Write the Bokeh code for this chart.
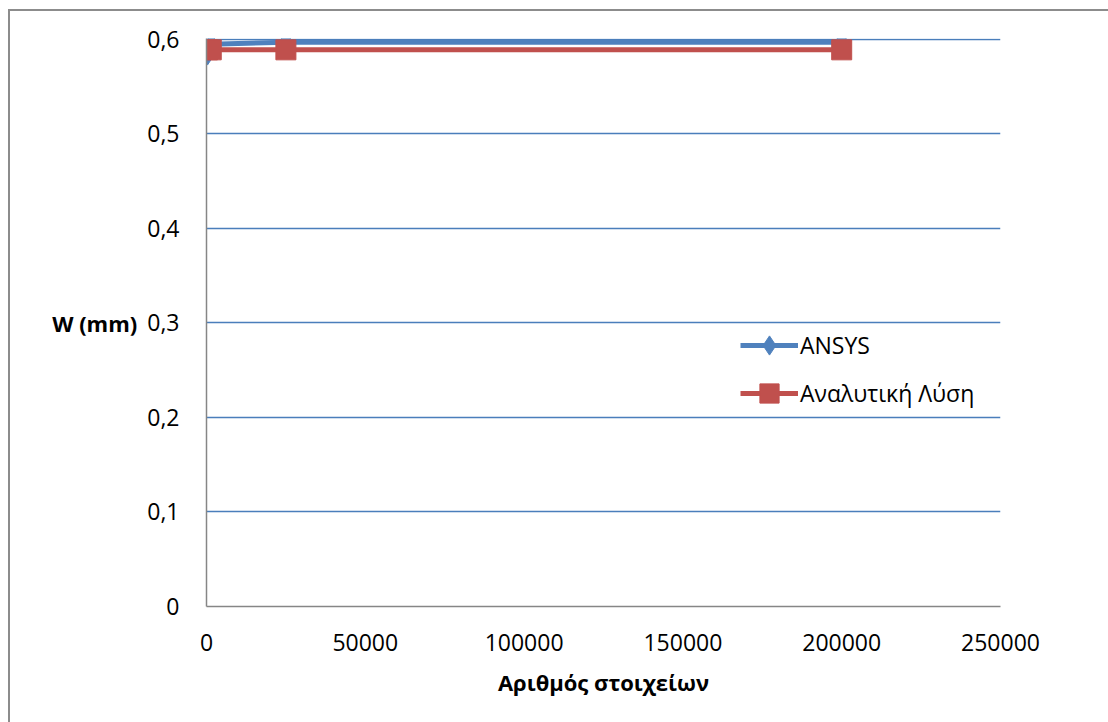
from bokeh.plotting import figure
from bokeh.models import (Range1d, FixedTicker, CustomJSTickFormatter, Legend,
                          LegendItem)
from bokeh.embed import file_html
from bokeh.resources import INLINE

# Mesh size (number of elements) and max deflection W (mm)
elements = [300, 1500, 25000, 200000]
w_ansys = [0.584, 0.595, 0.597, 0.597]
w_analytic = [0.589, 0.589, 0.589, 0.589]

x_ticks = [0, 50000, 100000, 150000, 200000, 250000]
x_tick_labels = ["0", "50000", "100000", "150000", "200000", "250000"]
y_ticks = [0, 0.1, 0.2, 0.3, 0.4, 0.5, 0.6]
y_tick_labels = ["0", "0,1", "0,2", "0,3", "0,4", "0,5", "0,6"]

FONT = "Open Sans"
BLUE = "#4f81bd"
RED = "#c0504d"
FRAME_GRAY = "#8c8c8c"

# chart-area border (left and top edges) painted behind a transparent canvas border
border_bg = (f"linear-gradient({FRAME_GRAY},{FRAME_GRAY}) 8px 9px / 2px 2000px no-repeat, "
             f"linear-gradient({FRAME_GRAY},{FRAME_GRAY}) 8px 9px / 2000px 2px no-repeat, white")

p = figure(width=1108, height=722, output_backend="svg", toolbar_location=None,
           x_range=Range1d(0, 250000), y_range=Range1d(0, 0.601),
           min_border_left=206, min_border_right=108,
           min_border_top=38, min_border_bottom=116,
           styles={"background": border_bg})
p.outline_line_color = None
p.background_fill_color = "white"
p.border_fill_alpha = 0

fmt_code = """
let best = 0;
for (let i = 0; i < tvals.length; i++) {
  if (Math.abs(tvals[i] - tick) < Math.abs(tvals[best] - tick)) best = i;
}
return tlabels[best];
"""

for ax, tv, tl in ((p.xaxis[0], x_ticks, x_tick_labels),
                   (p.yaxis[0], y_ticks, y_tick_labels)):
    ax.ticker = FixedTicker(ticks=tv)
    ax.formatter = CustomJSTickFormatter(args=dict(tvals=tv, tlabels=tl), code=fmt_code)
    ax.major_tick_line_color = None
    ax.minor_tick_line_color = None
    ax.axis_line_color = "#868686"
    ax.axis_line_width = 1.5
    ax.major_label_text_font = FONT
    ax.major_label_text_font_size = "23px"
    ax.major_label_text_color = "black"
    ax.axis_label_text_font = FONT
    ax.axis_label_text_font_size = "22px"
    ax.axis_label_text_font_style = "bold"
    ax.axis_label_text_color = "black"

p.xaxis.major_label_standoff = 21
p.yaxis.major_label_standoff = 21
p.xaxis.axis_label = "Αριθμός στοιχείων"
p.xaxis.axis_label_standoff = 13
p.yaxis.axis_label = "W (mm)"
p.yaxis.axis_label_orientation = "horizontal"
p.yaxis.axis_label_standoff = 7

p.xgrid.grid_line_color = None
p.ygrid.grid_line_color = "#4a7ebb"
p.ygrid.grid_line_width = 1.5

l1 = p.line(elements, w_ansys, line_color=BLUE, line_width=5)
m1 = p.scatter(elements, w_ansys, marker="diamond", size=21,
               fill_color=BLUE, line_color=BLUE, line_width=1)
l2 = p.line(elements, w_analytic, line_color=RED, line_width=5)
m2 = p.scatter(elements, w_analytic, marker="square", size=20,
               fill_color=RED, line_color=RED, line_width=1)

legend = Legend(items=[LegendItem(label="ANSYS", renderers=[l1, m1]),
                       LegendItem(label="Αναλυτική Λύση", renderers=[l2, m2])],
                location=(534, 189), border_line_color=None,
                background_fill_alpha=0, padding=0, margin=0,
                glyph_width=58, glyph_height=48, label_height=48,
                label_standoff=2, spacing=0,
                label_text_font=FONT, label_text_font_size="23px",
                label_text_color="black")
p.add_layout(legend)

open("out.html", "w").write(file_html(p, INLINE))
